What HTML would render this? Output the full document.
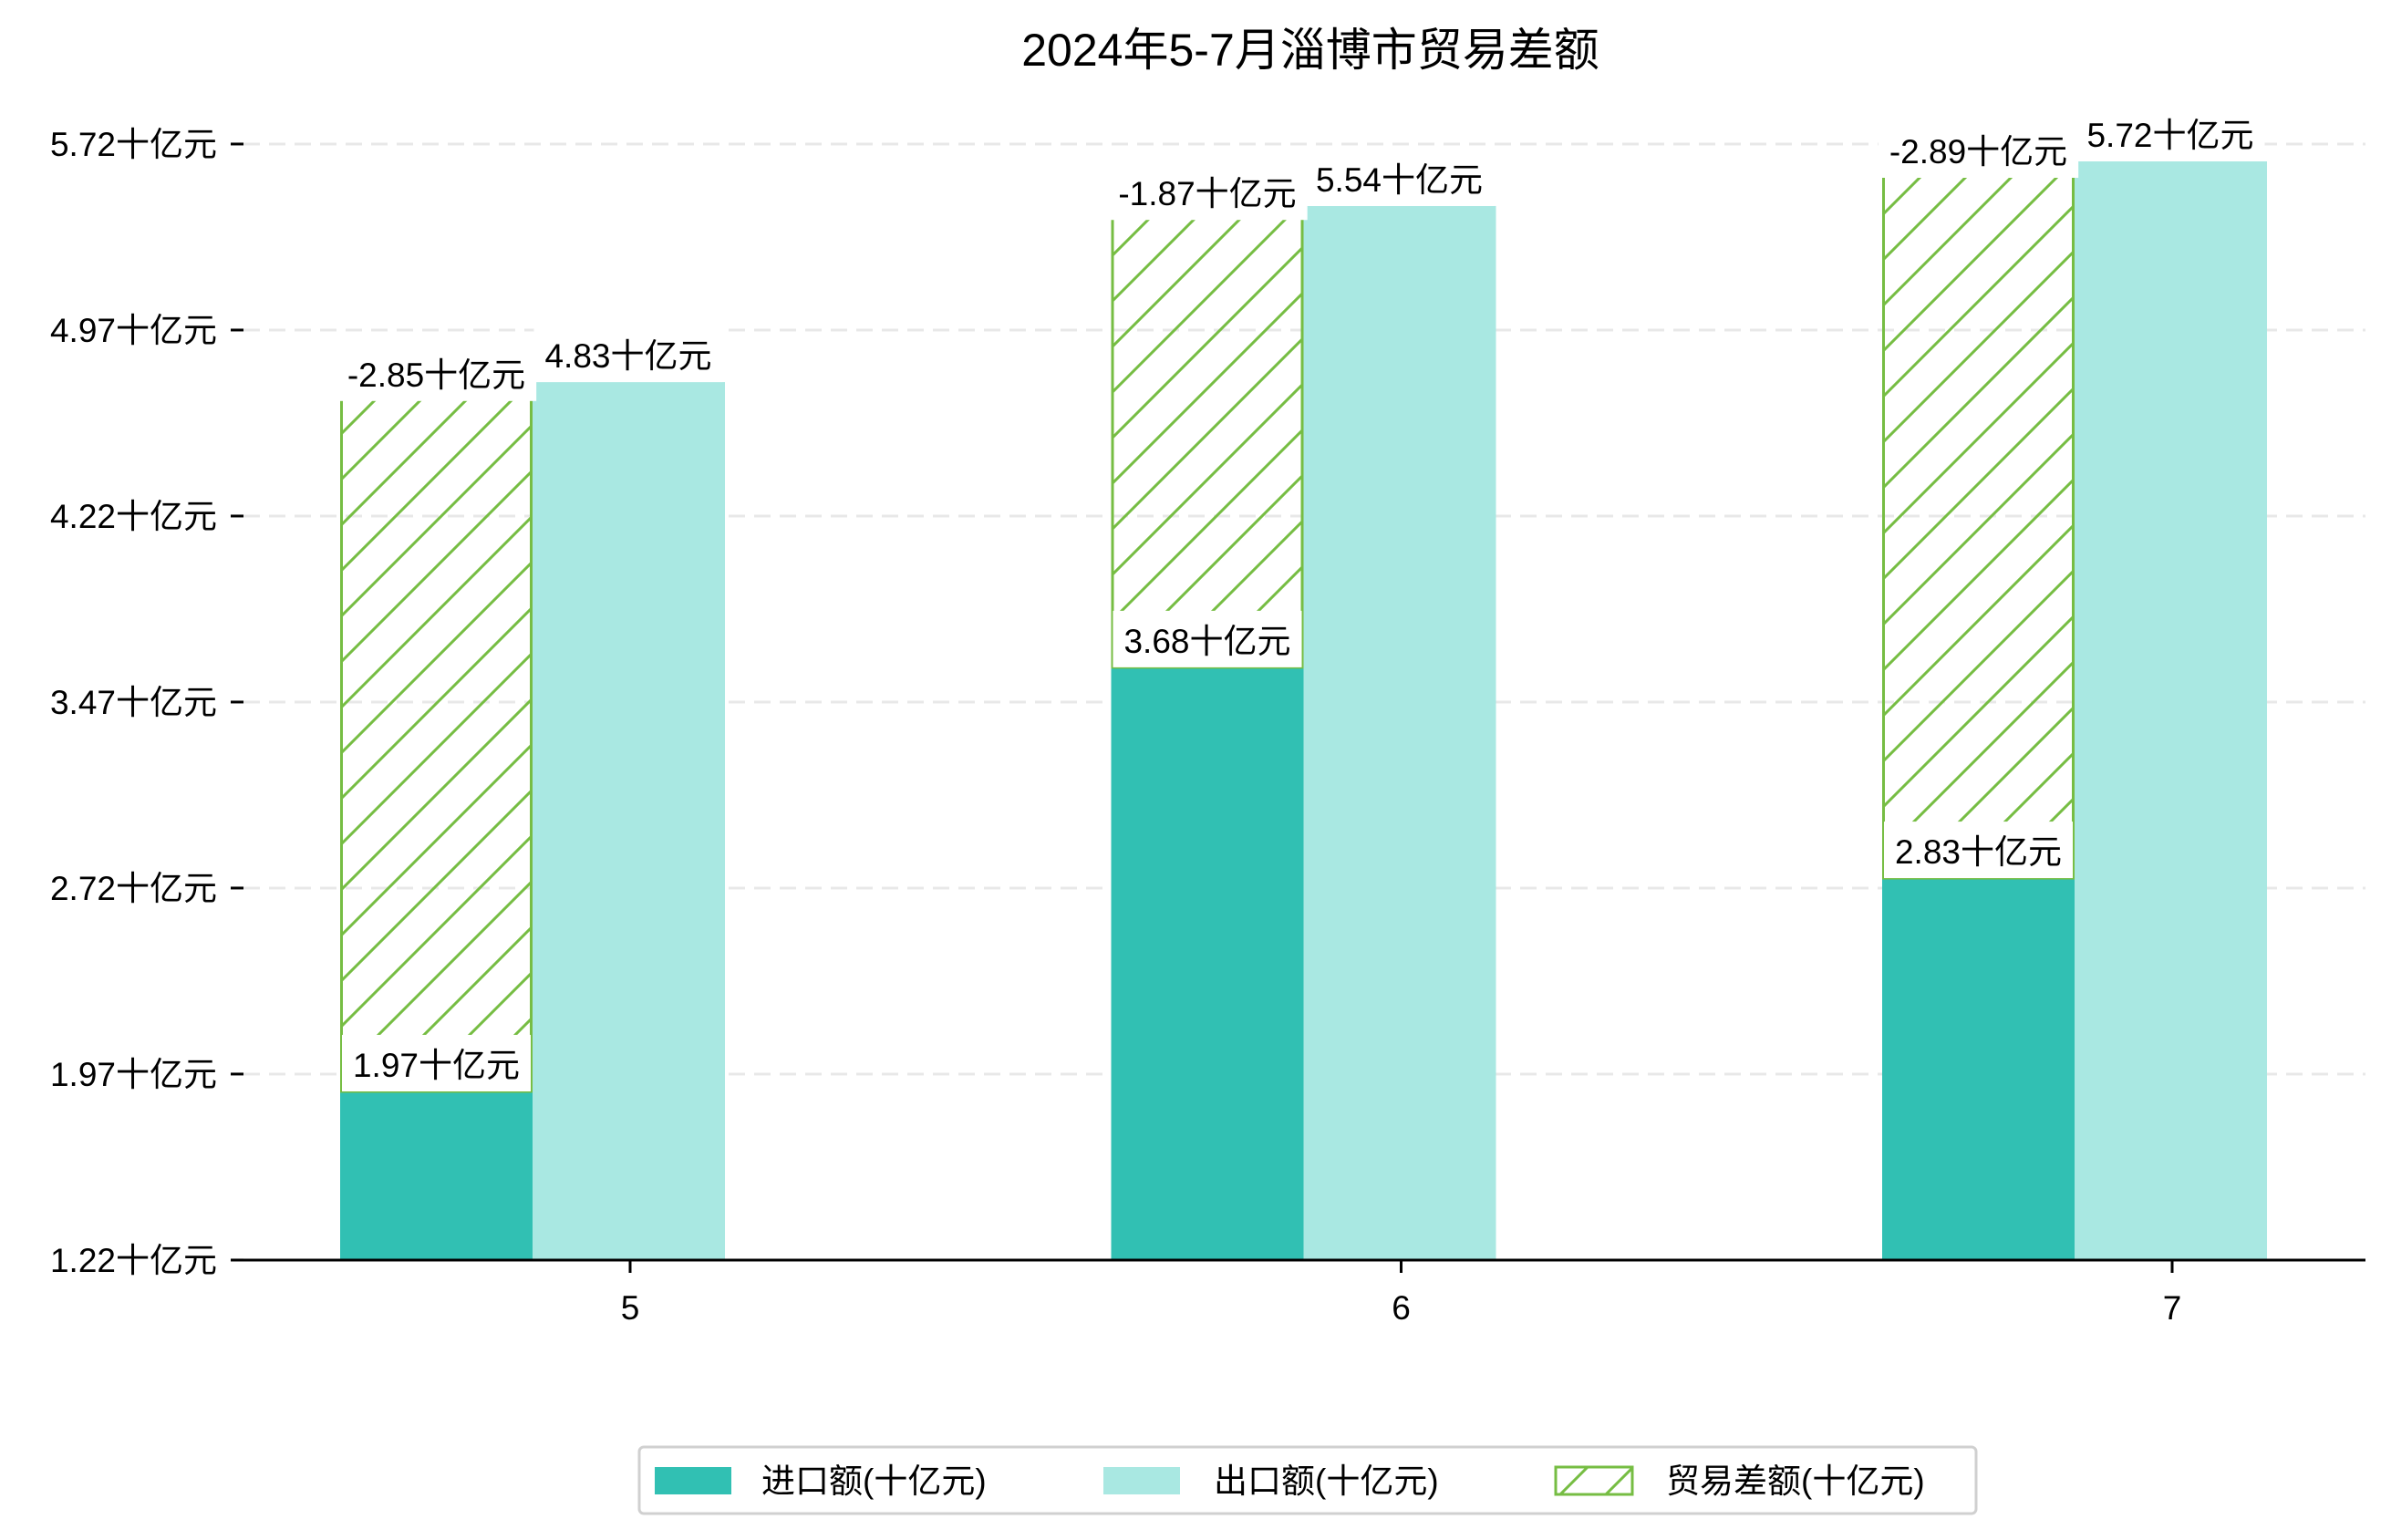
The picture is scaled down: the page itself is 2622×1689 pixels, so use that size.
<!DOCTYPE html>
<html><head><meta charset="utf-8">
<style>
html,body{margin:0;padding:0;background:#fff;}
svg{display:block;font-family:"Liberation Sans","Noto Sans CJK SC",sans-serif;}
</style></head>
<body>
<svg id="chart" width="2622" height="1689" viewBox="0 0 2622 1689" xmlns="http://www.w3.org/2000/svg">
<defs>
<pattern id="hatch" patternUnits="userSpaceOnUse" width="50" height="50">
<path d="M-5,5 L5,-5 M0,50 L50,0 M45,55 L55,45" stroke="#76bd43" stroke-width="3"/>
</pattern>
</defs>
<text x="1437" y="72" text-anchor="middle" font-size="50" fill="#000">2024年5-7月淄博市贸易差额</text>
<g id="grid"></g>
<g id="bars"></g>
<g id="labels"></g>
<g id="axes"></g>
<g>
<rect x="701" y="1587" width="1466" height="73" rx="5" fill="#fff" stroke="#d0d0d0" stroke-width="3"/>
<rect x="718" y="1609" width="84" height="30" fill="#31c0b3"/>
<text x="835" y="1637" font-size="37">进口额(十亿元)</text>
<rect x="1210" y="1609" width="84" height="30" fill="#a9e8e2"/>
<text x="1331" y="1637" font-size="37">出口额(十亿元)</text>
<rect x="1706" y="1609" width="84" height="30" fill="url(#hatch)" stroke="#76bd43" stroke-width="3"/>
<text x="1827" y="1637" font-size="37">贸易差额(十亿元)</text>
</g>
</svg>
<script>
const months = ["5","6","7"];
const importVals = [1.97,3.68,2.83];
const exportVals = [4.83,5.54,5.72];
const balanceVals = [-2.85,-1.87,-2.89];
const tickValues = [1.29,2.04,2.79,3.54,4.29,5.04,5.79];
const tickLabels = ["1.22十亿元","1.97十亿元","2.72十亿元","3.47十亿元","4.22十亿元","4.97十亿元","5.72十亿元"];

const NS="http://www.w3.org/2000/svg";
const X0=253,X1=2594,baseY=1382;
function y(v){return 1197-(v-1.97)*272;}
function xc(i){return 691+i*845.5;}
const BW=211;
function mk(tag,attrs,parent){const e=document.createElementNS(NS,tag);for(const k in attrs)e.setAttribute(k,attrs[k]);parent.appendChild(e);return e;}
const grid=document.getElementById('grid'),bars=document.getElementById('bars'),labels=document.getElementById('labels'),axes=document.getElementById('axes');

tickValues.forEach((t,i)=>{
  const ty=y(t);
  if(i>0){const g=mk('line',{x1:X0+14,x2:X1,y1:ty,y2:ty,stroke:'#e8e8e8','stroke-width':3,'stroke-dasharray':'18,10'},grid);
  
  }
  const tk=mk('line',{x1:X0,x2:X0+14,y1:ty,y2:ty,stroke:'#000','stroke-width':3},axes);
  
  
  const tl=mk('text',{x:238,y:ty+13,'text-anchor':'end','font-size':37},axes);
  
  
  tl.textContent=tickLabels[i];
});

function label(cx,bottom,txt,name){
  const t=mk('text',{x:cx,y:bottom-16,'text-anchor':'middle','font-size':37},labels);
  t.textContent=txt;
  const w=t.getComputedTextLength()+24;
  const r=mk('rect',{x:cx-w/2,y:bottom-62,width:w,height:62,fill:'#fff'},labels);
  labels.insertBefore(r,t);
  
  
  
  
}

months.forEach((m,i)=>{
  const c=xc(i);
  const ix=c-BW-107, ex=c-107;
  const bi=mk('rect',{x:ix,y:y(importVals[i]),width:BW,height:baseY-y(importVals[i]),fill:'#31c0b3'},bars);
  
  
  const be=mk('rect',{x:ex,y:y(exportVals[i]),width:BW,height:baseY-y(exportVals[i]),fill:'#a9e8e2'},bars);
  
  
  const top=importVals[i]+Math.abs(balanceVals[i]);
  const bh=mk('rect',{x:ix+1.5,y:y(top),width:BW-3,height:y(importVals[i])-y(top),fill:'url(#hatch)',stroke:'#76bd43','stroke-width':3},bars);
  
  
  const xt=mk('line',{x1:c,x2:c,y1:baseY,y2:baseY+14,stroke:'#000','stroke-width':3},axes);
  
  
  const xl=mk('text',{x:c,y:1447,'text-anchor':'middle','font-size':37},axes);
  
  
  xl.textContent=m;
});
months.forEach((m,i)=>{
  label(xc(i)-2,y(exportVals[i]),exportVals[i].toFixed(2)+'十亿元','export-label-'+m);
});
months.forEach((m,i)=>{
  const c=xc(i), icx=c-BW/2-107;
  label(icx,y(importVals[i]),importVals[i].toFixed(2)+'十亿元','import-label-'+m);
  const top=importVals[i]+Math.abs(balanceVals[i]);
  label(icx,y(top)+18,balanceVals[i].toFixed(2)+'十亿元','balance-label-'+m);
});
const ax=mk('line',{x1:X0,x2:X1,y1:baseY,y2:baseY,stroke:'#000','stroke-width':3},axes);


</script>
</body></html>
